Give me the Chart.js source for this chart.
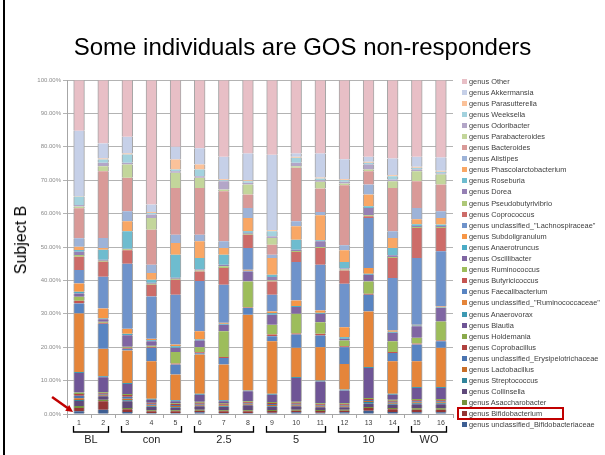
<!DOCTYPE html>
<html lang="en">
<head>
  <meta charset="UTF-8">
  <title>Subject B - GOS non-responder</title>
  <script src="https://cdn.jsdelivr.net/npm/chart.js"></script>
  <style>
    body { margin: 0; background: #fff; font-family: 'Liberation Sans', Arial, sans-serif; }
    #slide { position: relative; width: 605px; height: 455px; overflow: hidden; }
    #slide canvas { position: absolute; left: 0; top: 0; }
    .frame-left { position: absolute; left: 3px; top: 0; width: 2px; height: 455px; background: #000; }
    .title { position: absolute; left: 0; top: 33px; width: 605px; text-align: center; font-size: 24px; line-height: 28px; color: #000; }
    .ylabel { position: absolute; left: 21px; top: 240px; transform: translate(-50%, -50%) rotate(-90deg); font-size: 16px; white-space: nowrap; color: #000; }
    #legend { position: absolute; left: 462px; top: 75.5px; }
    #legend .row { display: flex; align-items: center; height: 11.1px; }
    #legend .sw { width: 5px; height: 5px; margin-right: 2px; flex: none; }
    #legend .txt { font-size: 7.4px; color: #404040; white-space: nowrap; }
    .mark-box { position: absolute; left: 457px; top: 407px; width: 103px; height: 9px; border: 2px solid #c00000; }
  </style>
</head>
<body>
  <div id="slide">
    <canvas id="chart" width="605" height="455"></canvas>
    <div class="frame-left"></div>
    <div class="title">Some individuals are GOS non-responders</div>
    <div class="ylabel">Subject B</div>
    <div id="legend"></div>
    <div class="mark-box"></div>
  </div>
  <script>
    // samples 1-16 and the treatment groups under them
    const samples = ['1','2','3','4','5','6','7','8','9','10','11','12','13','14','15','16'];
    const groupNames = ['BL', 'con', '2.5', '5', '10', 'WO'];
    const groupFirst = [0, 2, 5, 8, 11, 14];
    const groupLast = [1, 4, 7, 10, 13, 15];
    const yTicks = [0, 10, 20, 30, 40, 50, 60, 70, 80, 90, 100];

    // relative abundance (%) per genus, stack order bottom -> top
    const unclBifidobacteriaceae = [0.8,1.3,0.6,0.3,0.3,0.5,0.3,0.3,0.4,0.5,0.4,0.5,1.0,0.6,0.5,0.5];
    const bifidobacterium      = [1.0,2.5,0.8,0.5,0.5,0.5,0.5,0.5,0.5,0.5,0.5,0.5,0.8,0.8,0.8,0.8];
    const asaccharobacter      = [0.6,0.5,0.4,0.3,0.3,0.3,0.3,0.3,0.3,0.3,0.3,0.3,0.3,0.4,0.4,0.4];
    const collinsella          = [1.5,1.0,2.0,1.0,0.8,1.0,1.0,1.5,1.0,1.0,0.8,0.7,1.0,1.0,1.2,1.2];
    const streptococcus        = [0.3,0.2,0.3,0.2,0.2,0.2,0.2,0.2,0.2,0.2,0.2,0.2,0.5,0.3,0.3,0.3];
    const lactobacillus        = [0.5,0.3,0.5,0.3,0.3,0.3,0.3,0.3,0.3,0.3,0.3,0.3,0.3,0.3,0.3,0.3];
    const unclErysipelotrichaceae = [0.8,0.3,0.6,0.3,0.3,0.3,0.2,0.2,0.3,0.3,0.2,0.2,0.3,0.3,0.3,0.3];
    const coprobacillus        = [0.5,0.2,0.5,0.3,0.3,0.3,0.3,0.2,0.3,0.3,0.2,0.2,0.3,0.3,0.3,0.3];
    const holdemania           = [0.4,0.2,0.3,0.2,0.2,0.3,0.2,0.3,0.3,0.3,0.3,0.3,0.3,0.3,0.4,0.4];
    const blautia              = [5.9,4.5,3.0,0.9,0.6,2.1,0.5,3.0,2.2,7.1,6.5,3.8,9.0,1.5,3.3,3.3];
    const anaerovorax          = [0.3,0.3,0.3,0.3,0.3,0.3,0.3,0.2,0.3,0.3,0.3,0.3,0.3,0.3,0.3,0.3];
    const unclRuminococcaceae  = [17.5,8.2,9.7,11.2,7.7,11.7,10.7,22.7,15.7,8.7,10.0,7.7,16.6,9.7,7.7,11.7];
    const faecalibacterium     = [3.0,7.5,0.5,4.0,3.0,0.4,2.0,2.0,1.5,4.0,3.5,5.0,5.0,2.5,5.0,2.0];
    const butyricicoccus       = [0.8,0.3,0.3,0.3,0.3,0.3,0.3,0.2,0.5,0.3,0.5,0.3,0.3,0.3,0.3,0.2];
    const ruminococcus         = [1.2,0.3,0.3,0.3,3.5,1.5,7.7,7.8,2.9,5.9,3.5,1.7,3.7,3.2,1.7,5.7];
    const oscillibacter        = [1.0,0.8,3.5,1.4,1.2,2.0,1.9,3.0,3.0,2.0,2.5,0.5,2.0,2.5,3.5,4.0];
    const anaerotruncus        = [0.5,0.2,0.4,0.3,0.5,0.3,0.3,0.2,0.5,0.3,0.3,0.5,0.3,0.3,0.2,0.2];
    const subdoligranulum      = [2.5,3.0,1.5,0.4,0.5,2.5,0.3,0.3,0.5,1.7,0.7,3.0,1.7,0.4,0.2,0.3];
    const unclLachnospiraceae  = [4.0,9.5,19.5,12.7,14.9,15.0,11.4,6.5,5.0,11.5,13.7,13.0,15.0,15.7,20.0,16.5];
    const coprococcus          = [4.0,4.5,4.0,3.5,4.5,2.9,5.0,4.0,4.0,3.0,5.0,4.0,0.5,6.0,9.0,7.0];
    const pseudobutyrivibrio   = [0.5,0.3,0.3,0.3,0.3,0.3,0.5,0.3,0.3,0.3,0.3,0.3,0.3,0.3,0.3,0.3];
    const dorea                = [1.0,0.3,0.2,0.3,0.3,0.3,0.5,0.3,1.0,0.4,1.7,0.3,2.2,0.5,0.3,0.3];
    const roseburia            = [0.5,3.0,5.2,0.9,6.9,3.4,3.0,0.4,0.7,3.0,0.3,1.9,0.5,2.2,0.5,0.4];
    const phascolarctobacterium = [1.0,0.5,3.0,2.0,3.5,5.0,2.0,4.0,5.0,4.0,7.5,3.5,3.5,3.0,1.5,2.0];
    const alistipes            = [2.5,3.0,3.0,2.5,2.5,2.0,2.0,3.0,1.0,1.5,1.0,1.5,3.0,2.0,3.4,2.0];
    const bacteroides          = [9.0,20.0,10.0,10.5,14.0,14.0,15.0,4.0,3.0,16.0,7.0,18.0,4.0,13.0,8.0,8.0];
    const parabacteroides      = [0.5,1.5,4.0,3.5,4.5,3.0,0.5,3.0,2.0,0.5,2.0,0.5,0.5,2.0,3.0,3.0];
    const odoribacter          = [0.5,1.0,0.5,1.0,0.5,0.5,2.5,0.5,0.5,1.0,0.5,0.5,1.5,0.5,0.5,0.3];
    const weeksella            = [2.5,1.0,2.5,0.5,0.5,2.0,0.3,0.5,1.5,1.5,0.5,0.5,0.5,1.0,0.5,0.5];
    const parasutterella       = [0.2,0.3,0.3,0.3,3.0,1.5,0.3,0.3,0.3,0.3,0.3,0.3,0.3,0.3,0.3,0.3];
    const akkermansia          = [19.5,4.5,5.0,2.2,3.8,4.9,6.7,8.0,22.6,1.0,7.2,6.0,1.5,5.0,3.0,4.0];
    const other                = [15.2,19.0,17.0,37.3,20.0,20.4,23.0,22.0,22.4,22.0,22.0,23.7,23.0,23.5,23.0,23.2];

    const seriesNames = [
      'genus unclassified_Bifidobacteriaceae', 'genus Bifidobacterium', 'genus Asaccharobacter',
      'genus Collinsella', 'genus Streptococcus', 'genus Lactobacillus',
      'genus unclassified_Erysipelotrichaceae', 'genus Coprobacillus', 'genus Holdemania',
      'genus Blautia', 'genus Anaerovorax', 'genus unclassified_"Ruminococcaceae"',
      'genus Faecalibacterium', 'genus Butyricicoccus', 'genus Ruminococcus',
      'genus Oscillibacter', 'genus Anaerotruncus', 'genus Subdoligranulum',
      'genus unclassified_"Lachnospiraceae"', 'genus Coprococcus', 'genus Pseudobutyrivibrio',
      'genus Dorea', 'genus Roseburia', 'genus Phascolarctobacterium',
      'genus Alistipes', 'genus Bacteroides', 'genus Parabacteroides',
      'genus Odoribacter', 'genus Weeksella', 'genus Parasutterella',
      'genus Akkermansia', 'genus Other'
    ];
    const seriesValues = [
      unclBifidobacteriaceae, bifidobacterium, asaccharobacter, collinsella, streptococcus, lactobacillus,
      unclErysipelotrichaceae, coprobacillus, holdemania, blautia, anaerovorax, unclRuminococcaceae,
      faecalibacterium, butyricicoccus, ruminococcus, oscillibacter, anaerotruncus, subdoligranulum,
      unclLachnospiraceae, coprococcus, pseudobutyrivibrio, dorea, roseburia, phascolarctobacterium,
      alistipes, bacteroides, parabacteroides, odoribacter, weeksella, parasutterella,
      akkermansia, other
    ];
    const seriesColors = [
      '#3e5f93', '#943634', '#76923c', '#5f497a', '#31849b', '#c86e28',
      '#4a74b0', '#b0423f', '#8aaa4c', '#6f5596', '#3e9ab3', '#e5853a',
      '#5884c2', '#c55451', '#9dbd5b', '#8066a3', '#4bacc6', '#f79646',
      '#6f93cb', '#cd6c69', '#aec878', '#9580b4', '#6ebccf', '#f9a765',
      '#9db3d8', '#d99a98', '#c3d69b', '#b3a6c8', '#a3d2de', '#fbc29a',
      '#c6d0e8', '#e8bfc6'
    ];

    // legend (top entry = top of the stack)
    const legendEl = document.getElementById('legend');
    for (let i = seriesNames.length - 1; i >= 0; i--) {
      const row = document.createElement('div');
      row.className = 'row';
      row.innerHTML = '<span class="sw" style="background:' + seriesColors[i] + '"></span><span class="txt"></span>';
      row.querySelector('.txt').textContent = seriesNames[i];
      legendEl.appendChild(row);
    }

    // braces under the groups, red arrow at sample 1
    const groupMarks = {
      id: 'groupMarks',
      afterDraw(chart) {
        const { ctx, scales: { x, y } } = chart;
        ctx.save();
        ctx.strokeStyle = '#000';
        ctx.lineWidth = 1.3;
        ctx.fillStyle = '#262626';
        ctx.font = '11px "Liberation Sans", Arial, sans-serif';
        ctx.textAlign = 'center';
        ctx.textBaseline = 'middle';
        groupNames.forEach((name, i) => {
          const x1 = Math.round(x.getPixelForValue(groupFirst[i]) - 6) + 0.5;
          const x2 = Math.round(x.getPixelForValue(groupLast[i]) + 5) + 0.5;
          ctx.beginPath();
          ctx.moveTo(x1, 426);
          ctx.lineTo(x1, 432);
          ctx.lineTo(x2, 432);
          ctx.lineTo(x2, 426);
          ctx.stroke();
          ctx.fillText(name, (x1 + x2) / 2, 440);
        });
        // arrow
        const tipX = x.getPixelForValue(0) - 6;
        const tipY = y.getPixelForValue(0) - 2;
        const tailX = tipX - 21, tailY = tipY - 15;
        const ang = Math.atan2(tipY - tailY, tipX - tailX);
        ctx.strokeStyle = '#c00000';
        ctx.fillStyle = '#c00000';
        ctx.lineWidth = 2.5;
        ctx.beginPath();
        ctx.moveTo(tailX, tailY);
        ctx.lineTo(tipX - 5 * Math.cos(ang), tipY - 5 * Math.sin(ang));
        ctx.stroke();
        ctx.beginPath();
        ctx.moveTo(tipX, tipY);
        ctx.lineTo(tipX - 8 * Math.cos(ang - 0.45), tipY - 8 * Math.sin(ang - 0.45));
        ctx.lineTo(tipX - 8 * Math.cos(ang + 0.45), tipY - 8 * Math.sin(ang + 0.45));
        ctx.closePath();
        ctx.fill();
        ctx.restore();
      }
    };

    const datasets = seriesValues.map((vals, i) => ({
      label: seriesNames[i],
      data: vals,
      backgroundColor: seriesColors[i],
      borderColor: '#a6a6a6',
      borderWidth: { left: 1, right: 1, top: i === seriesValues.length - 1 ? 1 : 0, bottom: 0 },
      borderSkipped: false,
      inflateAmount: 0.4,
      barPercentage: 0.44,
      categoryPercentage: 1.0
    }));

    new Chart(document.getElementById('chart'), {
      type: 'bar',
      data: { labels: samples, datasets: datasets },
      options: {
        responsive: false,
        animation: false,
        layout: { padding: { left: 0, right: 152, top: 80, bottom: 21 } },
        plugins: {
          legend: { display: false },
          tooltip: { enabled: false }
        },
        scales: {
          x: {
            stacked: true,
            grid: { drawOnChartArea: false, drawTicks: true, tickLength: 4, color: '#a6a6a6' },
            border: { color: '#a6a6a6' },
            ticks: { font: { size: 7, family: '"Liberation Sans", Arial, sans-serif' }, color: '#404040', padding: 1, maxRotation: 0, autoSkip: false },
            afterFit(scale) { scale.height = 20; }
          },
          y: {
            stacked: true,
            min: 0,
            max: 100,
            afterBuildTicks(scale) { scale.ticks = yTicks.map(v => ({ value: v })); },
            ticks: {
              callback: v => v.toFixed(2) + '%',
              font: { size: 6, family: '"Liberation Sans", Arial, sans-serif' },
              color: '#8c8c8c',
              padding: 2
            },
            grid: { color: '#b3b3b3', tickLength: 4 },
            border: { color: '#a6a6a6' },
            afterFit(scale) { scale.width = 67; }
          }
        }
      },
      plugins: [groupMarks]
    });
  </script>
</body>
</html>
